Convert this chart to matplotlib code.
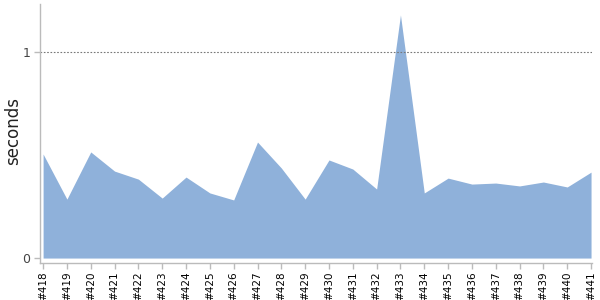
import matplotlib.pyplot as plt

# build numbers and their durations (seconds)
builds = ["#418", "#419", "#420", "#421", "#422", "#423", "#424", "#425",
          "#426", "#427", "#428", "#429", "#430", "#431", "#432", "#433",
          "#434", "#435", "#436", "#437", "#438", "#439", "#440", "#441"]
seconds = [0.505, 0.286, 0.515, 0.422, 0.383, 0.291, 0.393, 0.316,
           0.282, 0.563, 0.437, 0.286, 0.476, 0.432, 0.335, 1.18,
           0.316, 0.388, 0.359, 0.364, 0.350, 0.369, 0.345, 0.417]
yticks = [0, 1]

x = list(range(len(builds)))

fig = plt.figure(figsize=(6, 3), dpi=100)
ax = fig.add_axes([40 / 600, 37 / 300, 552 / 600, 259 / 300])

ax.fill_between(x, seconds, 0, color="#8fb1da", linewidth=0)
ax.axhline(1, color="#777777", linestyle=(0, (1.5, 1.5)), linewidth=0.8)

ax.set_xlim(-0.13, len(builds) - 1 + 0.04)
ax.set_ylim(-0.024, 1.233)

ax.set_xticks(x)
ax.set_xticklabels(builds, rotation=90, fontsize=7.5)
ax.set_yticks(yticks)
ax.set_yticklabels([str(t) for t in yticks], fontsize=9, color="#444444")
ax.set_ylabel("seconds", fontsize=12, color="#222222", va="center")
ax.yaxis.set_label_coords(-0.049, 0.51)

for side in ["top", "right"]:
    ax.spines[side].set_visible(False)
for side in ["left", "bottom"]:
    ax.spines[side].set_color("#bbbbbb")
    ax.spines[side].set_linewidth(1)
ax.tick_params(axis="both", colors="#bbbbbb", length=4, width=1)
ax.tick_params(axis="x", labelcolor="black", pad=2)
ax.tick_params(axis="y", labelcolor="#444444", pad=3)

fig.savefig("out.png", dpi=100)
